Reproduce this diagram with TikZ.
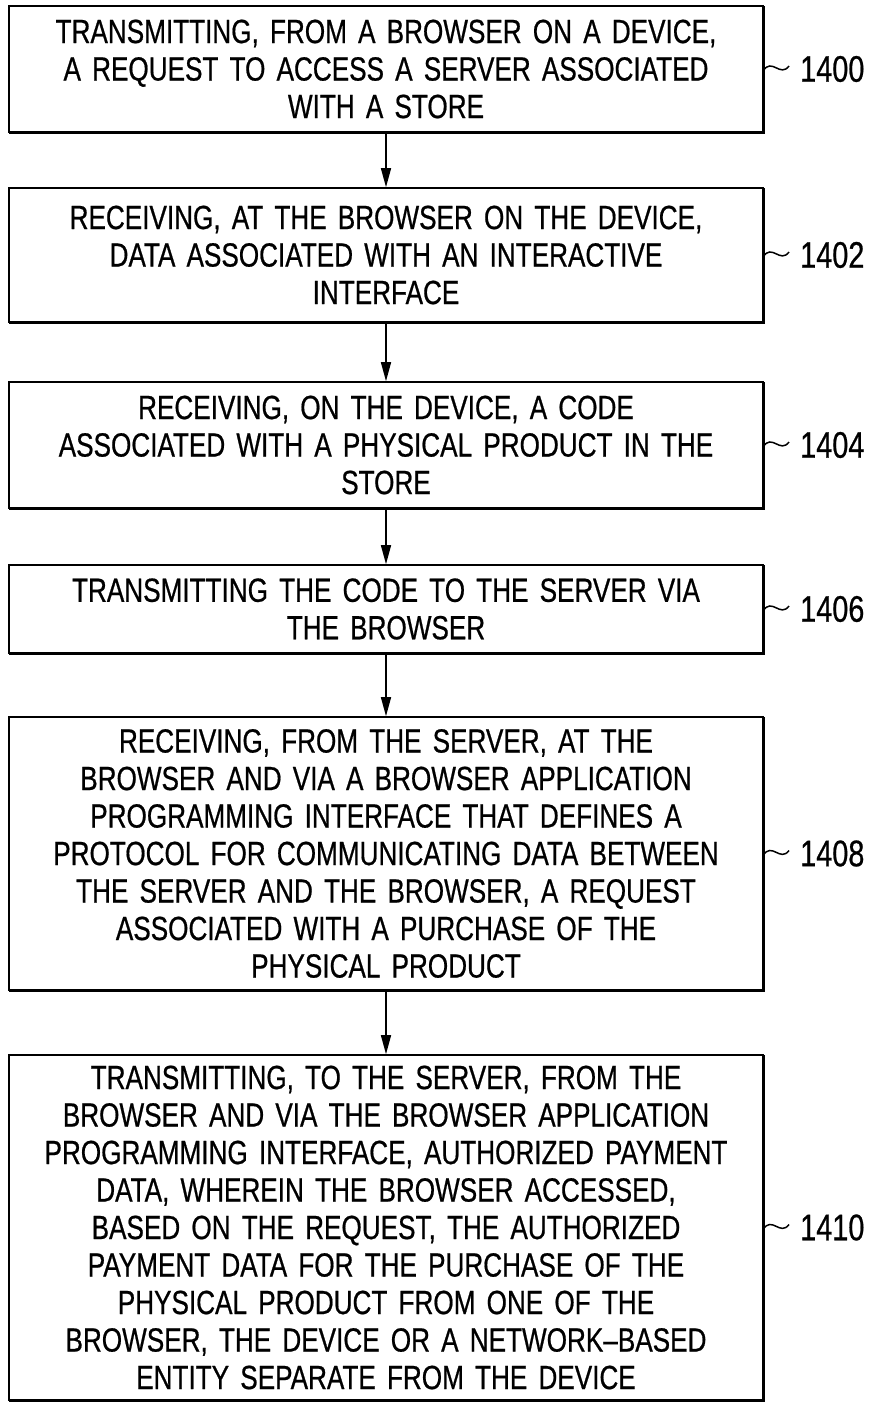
\documentclass[tikz,border=0pt]{standalone}
\usepackage{fontspec}
\setmainfont{Liberation Sans}[FakeStretch=0.78,WordSpace=1.8,FakeBold=0.6]
\usetikzlibrary{positioning,arrows.meta}

\begin{document}
\begin{tikzpicture}[x=1pt,y=-1pt,
  stepbox/.style={draw,line width=1.5pt,outer sep=0pt,text width=740pt,inner xsep=7pt,inner ysep=0pt,align=center,font=\fontsize{33.5}{37.5}\selectfont},
  flow/.style={line width=1.5pt,-{Triangle[length=19pt,width=10pt]}},
  reflabel/.style={anchor=west,inner sep=0pt,font=\fontsize{37}{40}\selectfont},
  squiggle/.style={line width=1.5pt}]
\useasboundingbox (0,0) rectangle (876,1406);
%steps
\node[stepbox,minimum height=126pt] (s1) at (386,69) {TRANSMITTING, FROM A BROWSER ON A DEVICE,\\A REQUEST TO ACCESS A SERVER ASSOCIATED\\WITH A STORE};
\node[stepbox,minimum height=134pt,below=56pt of s1] (s2) {RECEIVING, AT THE BROWSER ON THE DEVICE,\\DATA ASSOCIATED WITH AN INTERACTIVE\\INTERFACE};
\node[stepbox,minimum height=126pt,below=60pt of s2] (s3) {RECEIVING, ON THE DEVICE, A CODE\\ASSOCIATED WITH A PHYSICAL PRODUCT IN THE\\STORE};
\node[stepbox,minimum height=88pt,below=57pt of s3] (s4) {TRANSMITTING THE CODE TO THE SERVER VIA\\THE BROWSER};
\node[stepbox,minimum height=273pt,below=64pt of s4] (s5) {RECEIVING, FROM THE SERVER, AT THE\\BROWSER AND VIA A BROWSER APPLICATION\\PROGRAMMING INTERFACE THAT DEFINES A\\PROTOCOL FOR COMMUNICATING DATA BETWEEN\\THE SERVER AND THE BROWSER, A REQUEST\\ASSOCIATED WITH A PURCHASE OF THE\\PHYSICAL PRODUCT};
\node[stepbox,minimum height=345pt,below=65pt of s5] (s6) {TRANSMITTING, TO THE SERVER, FROM THE\\BROWSER AND VIA THE BROWSER APPLICATION\\PROGRAMMING INTERFACE, AUTHORIZED PAYMENT\\DATA, WHEREIN THE BROWSER ACCESSED,\\BASED ON THE REQUEST, THE AUTHORIZED\\PAYMENT DATA FOR THE PURCHASE OF THE\\PHYSICAL PRODUCT FROM ONE OF THE\\BROWSER, THE DEVICE OR A NETWORK--BASED\\ENTITY SEPARATE FROM THE DEVICE};
%thick lower and right edges
\foreach \i in {1,...,6}
  \draw[line width=1.5pt] ([yshift=-1.2pt]s\i.south west) -- ([xshift=1.2pt,yshift=-1.2pt]s\i.south east) -- ([xshift=1.2pt]s\i.north east);
%arrows
\foreach \i/\j in {1/2,2/3,3/4,4/5,5/6}
  \draw[flow] ([yshift=-1.5pt]s\i.south) -- ([yshift=0.8pt]s\j.north);
%reference numerals
\foreach \i/\n in {1/1400,2/1402,3/1404,4/1406,5/1408,6/1410}{
  \node[reflabel] (l\i) at ([xshift=37pt]s\i.east) {\n};
  \draw[squiggle] ([yshift=-2pt]s\i.east) .. controls +(9pt,14pt) and +(-9pt,-12pt) .. ([xshift=-11pt,yshift=3pt]l\i.west);
}
\end{tikzpicture}
\end{document}
